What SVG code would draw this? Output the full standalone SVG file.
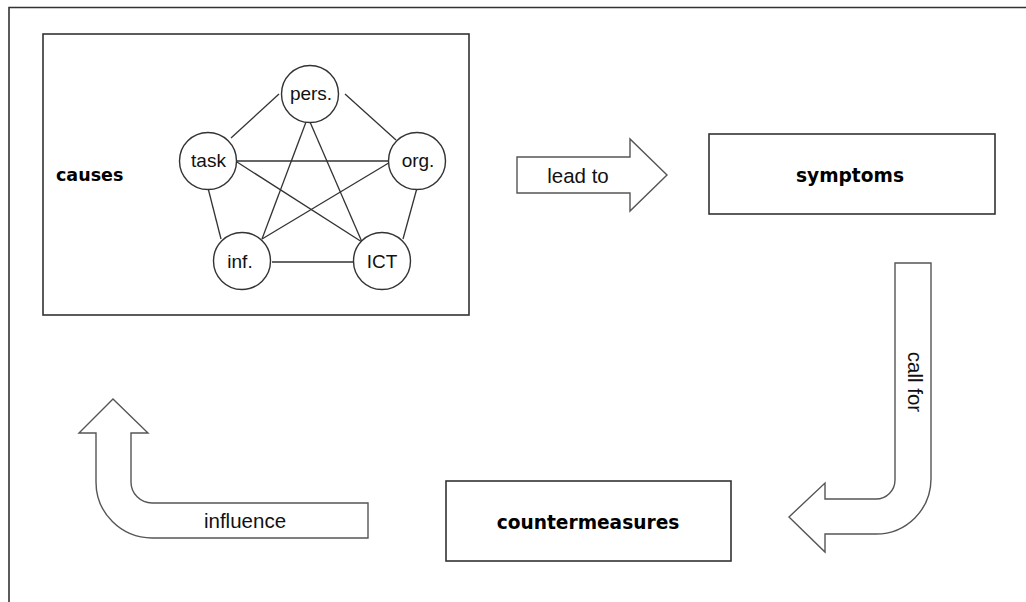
<svg xmlns="http://www.w3.org/2000/svg" width="1026" height="602" viewBox="0 0 1026 602">
<style>
.box{fill:#fff;stroke:#333;stroke-width:1.6}
.arrow{fill:#fff;stroke:#555;stroke-width:1.4;stroke-linejoin:miter}
.circ{fill:#fff;stroke:#333;stroke-width:1.4}
.edge{stroke:#333;stroke-width:1.3;fill:none}
.lbl{font-family:"Liberation Sans",Arial,sans-serif;font-size:19px;fill:#111;text-anchor:middle}
.alb{font-family:"Liberation Sans",Arial,sans-serif;font-size:20.5px;fill:#111;text-anchor:middle}
.bold{font-family:"DejaVu Sans",Verdana,sans-serif;font-weight:bold;font-size:17.5px;fill:#000}
.big{font-size:18.6px}
</style>
<rect width="1026" height="602" fill="#fff"/>
<path d="M9,602 L9,7.5 L1026,7.5" fill="none" stroke="#333" stroke-width="1.6"/>

<g id="causes">
  <rect class="box" x="43" y="34" width="426" height="281"/>
  <text class="bold" x="56" y="181">causes</text>
</g>

<g id="connectors">
  <line class="edge" x1="231" y1="138" x2="279" y2="94"/>
  <line class="edge" x1="345" y1="94" x2="396" y2="140"/>
  <line class="edge" x1="237" y1="161" x2="392" y2="161"/>
  <line class="edge" x1="237" y1="162" x2="362" y2="242"/>
  <line class="edge" x1="208" y1="188" x2="221" y2="239"/>
  <line class="edge" x1="306" y1="122" x2="262" y2="239"/>
  <line class="edge" x1="310" y1="122" x2="362" y2="242"/>
  <line class="edge" x1="262" y1="239" x2="392" y2="161"/>
  <line class="edge" x1="417" y1="188" x2="403" y2="239"/>
  <line class="edge" x1="272" y1="262" x2="357" y2="262"/>
</g>

<g id="pers">
  <circle class="circ" cx="310" cy="94" r="28.5"/>
  <text class="lbl" x="311" y="100">pers.</text>
</g>
<g id="task">
  <circle class="circ" cx="208" cy="161" r="28.5"/>
  <text class="lbl" x="208.5" y="167">task</text>
</g>
<g id="org">
  <circle class="circ" cx="417" cy="161" r="28.5"/>
  <text class="lbl" x="418" y="167">org.</text>
</g>
<g id="inf">
  <circle class="circ" cx="242" cy="261" r="28.5"/>
  <text class="lbl" x="240" y="268">inf.</text>
</g>
<g id="ict">
  <circle class="circ" cx="382" cy="261" r="28.5"/>
  <text class="lbl" x="382" y="268">ICT</text>
</g>

<g id="lead-to">
  <polygon class="arrow" points="517,157 630,157 630,139 667,175 630,211 630,193 517,193"/>
  <text class="alb" x="578" y="183">lead to</text>
</g>

<g id="symptoms">
  <rect class="box" x="709" y="134" width="286" height="80"/>
  <text class="bold big" x="850" y="182" text-anchor="middle">symptoms</text>
</g>

<g id="call-for">
  <path class="arrow" d="M895,263 L931,263 L931,479 A55,55 0 0 1 876,534 L825,534 L825,552 L789,517 L825,483 L825,499 L876,499 A19,19 0 0 0 895,480 Z"/>
  <text class="alb" transform="translate(908,382) rotate(90)">call for</text>
</g>

<g id="countermeasures">
  <rect class="box" x="446" y="481" width="285" height="80"/>
  <text class="bold big" x="588" y="529" text-anchor="middle">countermeasures</text>
</g>

<g id="influence">
  <path class="arrow" d="M113,399 L148,433 L131,433 L131,482 A21,21 0 0 0 152,503 L368,503 L368,538 L152,538 A56,56 0 0 1 96,482 L96,433 L79,433 Z"/>
  <text class="alb" x="245" y="528">influence</text>
</g>
</svg>
